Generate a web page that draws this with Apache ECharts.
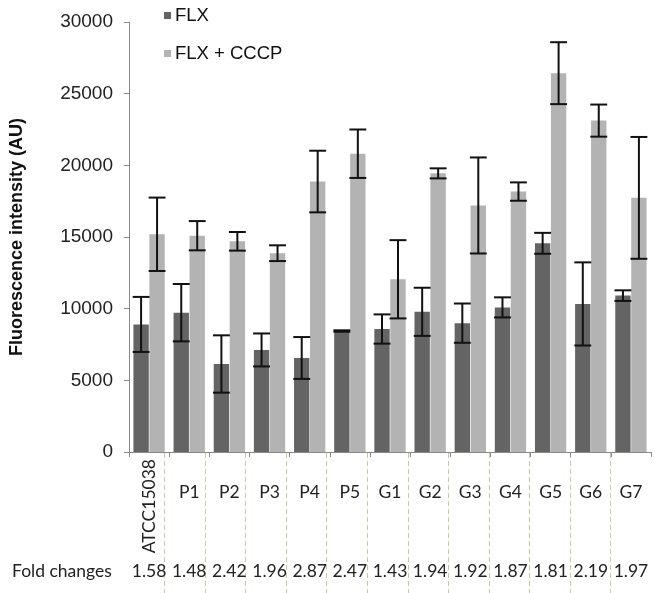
<!DOCTYPE html>
<html>
<head>
<meta charset="utf-8">
<script src="https://cdn.jsdelivr.net/npm/echarts@6/dist/echarts.min.js"></script>
<style>html,body{margin:0;padding:0;background:#fff;}#c{width:655px;height:593px;}</style>
</head>
<body>
<div id="c"></div>
<script>
var categories = ['ATCC15038','P1','P2','P3','P4','P5','G1','G2','G3','G4','G5','G6','G7'];
var flx =      [8900, 9720, 6140, 7120, 6560, 8440, 8580, 9780, 8990, 10090, 14560, 10330, 10910];
var flxErr =   [1920, 2000, 2000, 1150, 1460,   50, 1020, 1680, 1370,   700,   730,  2900,   370];
var cccp =     [15190, 15090, 14700, 13870, 18870, 20810, 12050, 19440, 17200, 18170, 26430, 23120, 17730];
var cccpErr =  [2560, 1020, 650, 550, 2150, 1690, 2730, 350, 3350, 640, 2160, 1120, 4250];
var foldChanges = [1.58, 1.48, 2.42, 1.96, 2.87, 2.47, 1.43, 1.94, 1.92, 1.87, 1.81, 2.19, 1.97];
var yTicks = {min: 0, max: 30000, interval: 5000};

var CAT_GAP = 0.22, BAR_GAP = 0.04;
var chart = echarts.init(document.getElementById('c'));

function errData(vals, errs, side) {
  return vals.map(function (v, i) { return [i, v, errs[i], side]; });
}
function renderErr(params, api) {
  var i = api.value(0), v = api.value(1), e = api.value(2), side = api.value(3);
  var band = api.size([1, 0])[0];
  var bw = band * (1 - CAT_GAP) / (2 + BAR_GAP);
  var off = side * (bw + bw * BAR_GAP) / 2;
  var top = api.coord([i, v + e]);
  var bot = api.coord([i, v - e]);
  var x = top[0] + off;
  var half = bw * 0.55;
  var st = {stroke: '#111', lineWidth: 2};
  return {type: 'group', children: [
    {type: 'line', shape: {x1: x, y1: top[1], x2: x, y2: bot[1]}, style: st},
    {type: 'line', shape: {x1: x - half, y1: top[1], x2: x + half, y2: top[1]}, style: st},
    {type: 'line', shape: {x1: x - half, y1: bot[1], x2: x + half, y2: bot[1]}, style: st}
  ]};
}

var labelFont = 'Lato, "Open Sans", sans-serif';
var arial = 'Arial, "Liberation Sans", sans-serif';
var option = {
  animation: false,
  backgroundColor: '#fff',
  legend: {
    orient: 'vertical', left: 159, top: 1, itemWidth: 7, itemHeight: 7, itemGap: 19,
    icon: 'rect',
    textStyle: {fontFamily: arial, fontSize: 18.5, color: '#111', padding: [0,0,0,-1]},
    data: ['FLX', 'FLX + CCCP']
  },
  grid: [
    {left: 124, right: 4, top: 22, bottom: 141, containLabel: false},
    {left: 124, right: 4, top: 453, bottom: 0, containLabel: false}
  ],
  xAxis: [
    {type: 'category', gridIndex: 0, data: categories,
     axisLine: {lineStyle: {color: '#8a8a8a', width: 1}},
     axisTick: {show: true, length: 5, lineStyle: {color: '#8a8a8a'}},
     axisLabel: {fontFamily: labelFont, fontSize: 17.5, color: '#222', margin: 31,
       formatter: function (v, i) { return i === 0 ? '' : v; }}},
    {type: 'category', gridIndex: 0, data: categories, position: 'bottom',
     axisLine: {show: false}, axisTick: {show: false},
     axisLabel: {fontFamily: labelFont, fontSize: 17.5, color: '#222', margin: 7, rotate: 90, interval: 0,
       formatter: function (v, i) { return i === 0 ? v : ''; }}},
    {type: 'category', gridIndex: 0, data: foldChanges.map(function (f) { return f.toFixed(2); }), position: 'bottom',
     axisLine: {show: false}, axisTick: {show: false},
     axisLabel: {fontFamily: labelFont, fontSize: 17.5, color: '#222', margin: 110, interval: 0}},
    {type: 'category', gridIndex: 1, data: categories,
     axisLine: {show: false}, axisTick: {show: false}, axisLabel: {show: false},
     splitLine: {show: true, showMinLine: false, showMaxLine: false, interval: 0,
       lineStyle: {color: '#cbc79e', type: [5, 3], width: 1}}}
  ],
  yAxis: [
    {type: 'value', gridIndex: 0, min: yTicks.min, max: yTicks.max, interval: yTicks.interval,
     name: 'Fluorescence intensity (AU)', nameLocation: 'middle', nameGap: 103,
     nameTextStyle: {fontFamily: arial, fontSize: 18, fontWeight: 'bold', color: '#111'},
     axisLine: {show: true, lineStyle: {color: '#8a8a8a', width: 1}},
     axisTick: {show: true, length: 5, lineStyle: {color: '#8a8a8a'}},
     splitLine: {show: false},
     axisLabel: {fontFamily: arial, fontSize: 19, color: '#222', margin: 16,
       formatter: function (v) { return String(v); }}},
    {type: 'value', gridIndex: 1, show: false, min: 0, max: 1, splitLine: {show: false}}
  ],
  graphic: [
    {type: 'text', left: 12, top: 562, style: {text: 'Fold changes', fontFamily: labelFont, fontSize: 17.5, fill: '#222'}}
  ],
  series: [
    {name: 'FLX', type: 'bar', data: flx, itemStyle: {color: '#646464'}, barGap: (BAR_GAP * 100) + '%', barCategoryGap: (CAT_GAP * 100) + '%'},
    {name: 'FLX + CCCP', type: 'bar', data: cccp, itemStyle: {color: '#b3b3b3'}},
    {type: 'custom', renderItem: renderErr, data: errData(flx, flxErr, -1), z: 5, encode: {x: 0, y: 1}},
    {type: 'custom', renderItem: renderErr, data: errData(cccp, cccpErr, 1), z: 5, encode: {x: 0, y: 1}}
  ]
};
chart.setOption(option);
</script>
</body>
</html>
